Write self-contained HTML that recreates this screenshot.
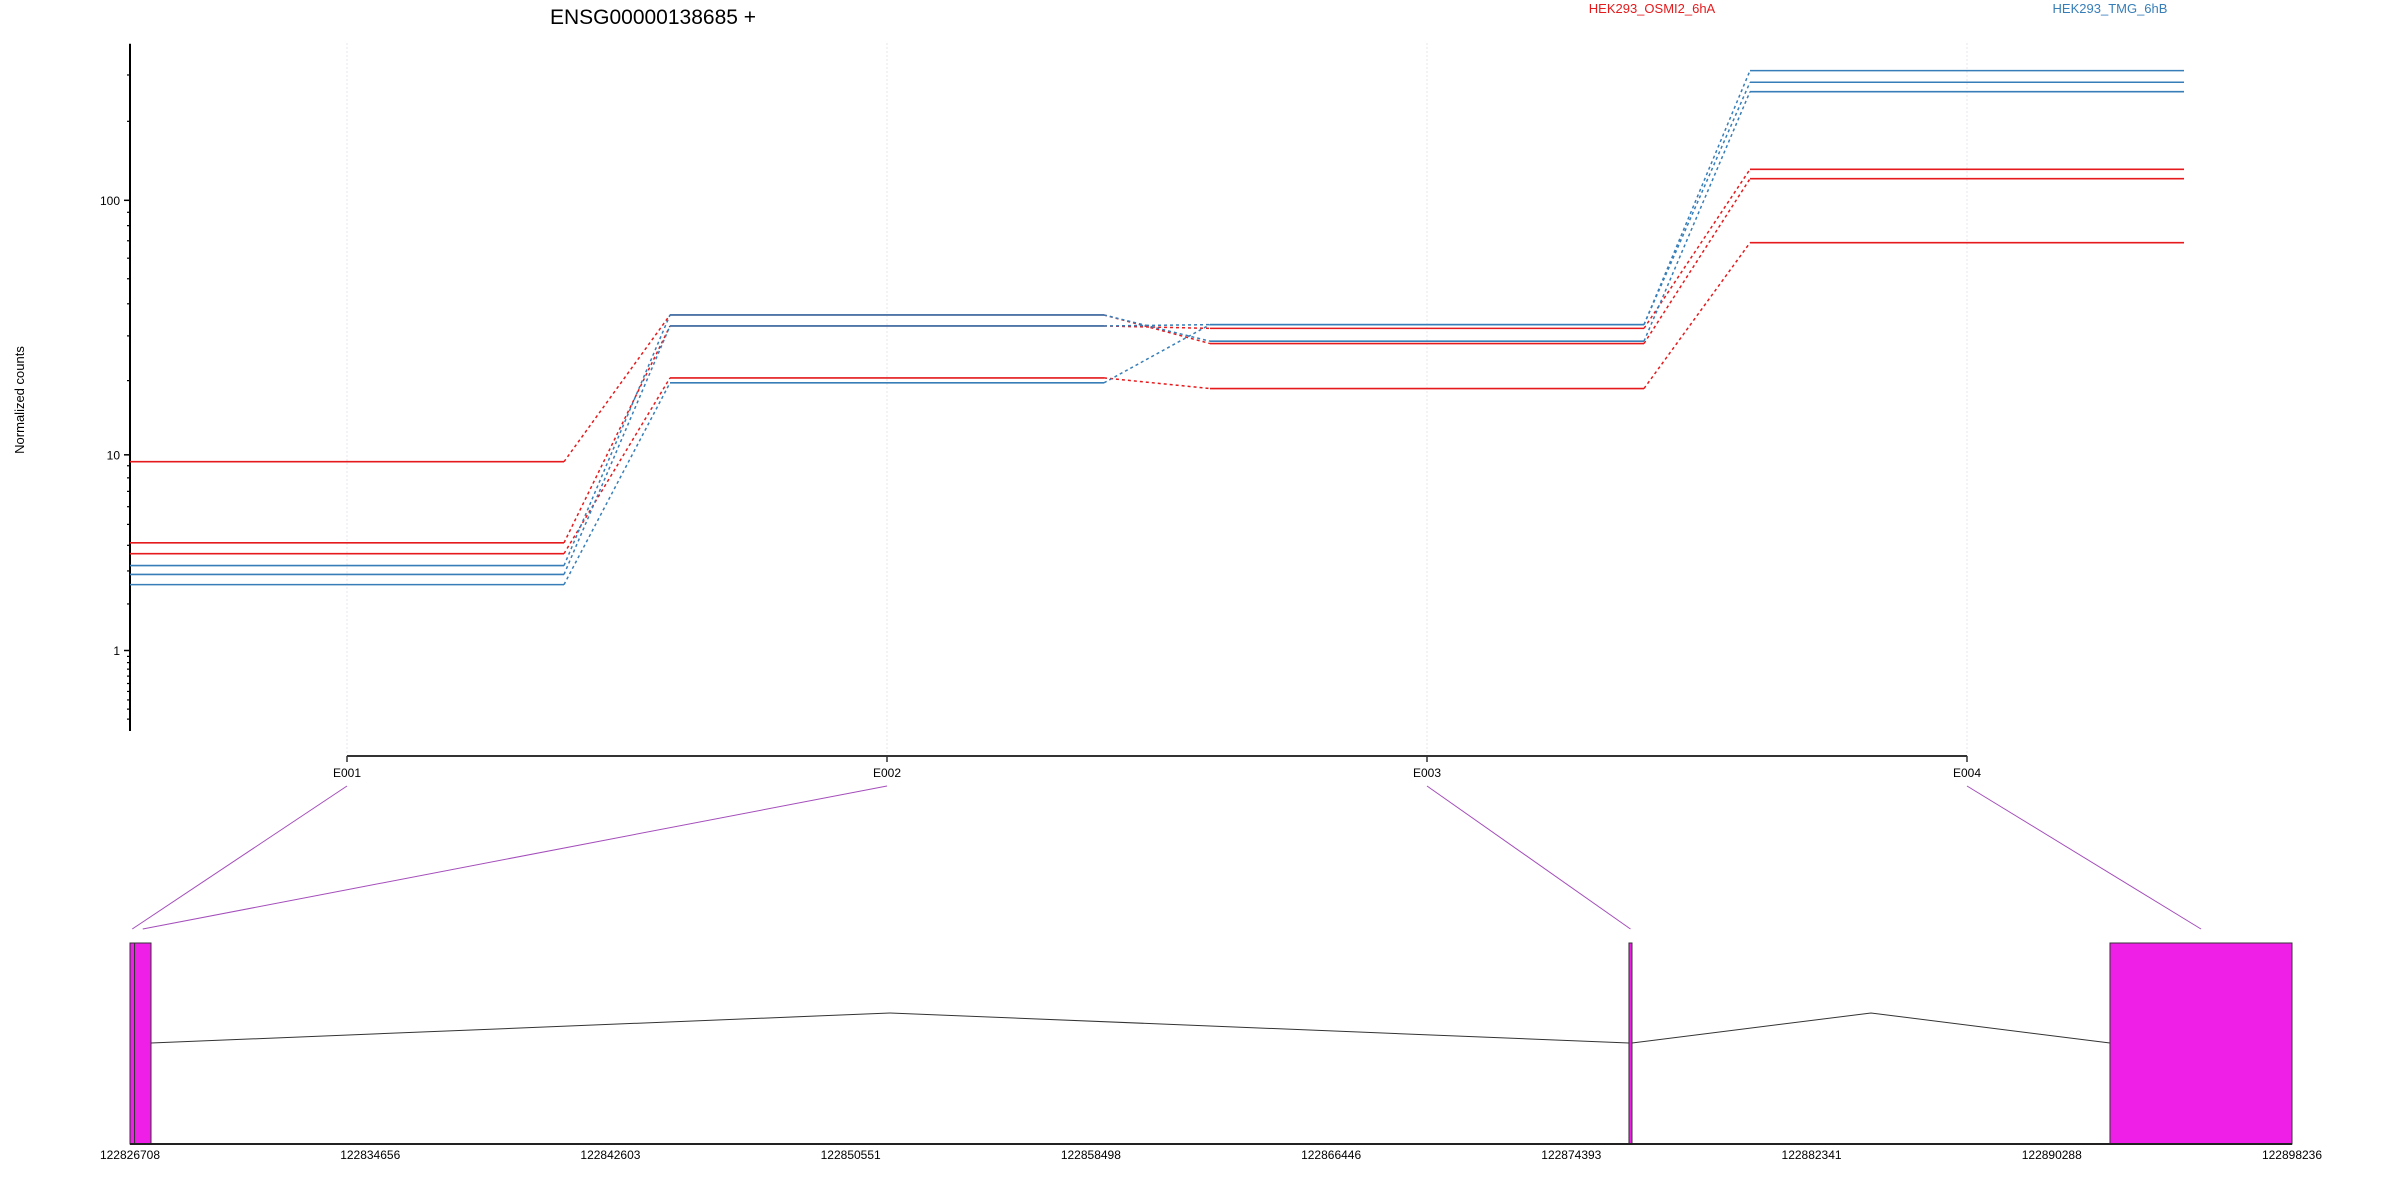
<!DOCTYPE html>
<html><head><meta charset="utf-8"><style>
html,body{margin:0;padding:0;background:#fff;}
svg{display:block;font-family:"Liberation Sans",sans-serif;}
</style></head><body>
<svg id="chart" width="2400" height="1200" viewBox="0 0 2400 1200" xmlns="http://www.w3.org/2000/svg">
<rect x="0" y="0" width="2400" height="1200" fill="#fff"/>
<text x="653" y="24" font-size="21" text-anchor="middle" fill="#000">ENSG00000138685 +</text>
<text x="1652" y="13" font-size="13" text-anchor="middle" fill="#e41a1c">HEK293_OSMI2_6hA</text>
<text x="2110" y="13" font-size="13" text-anchor="middle" fill="#377eb8">HEK293_TMG_6hB</text>
<text transform="translate(24,400) rotate(-90)" font-size="13" text-anchor="middle" fill="#000">Normalized counts</text>
<g id="grid"></g>
<g id="yaxis"></g>
<g id="xaxis"></g>
<g id="series"></g>
<g id="connectors"></g>
<g id="gene"></g>
</svg>
<script>
const exons = ["E001","E002","E003","E004"];
const seriesNames = ["osmi-1","osmi-2","osmi-3","tmg-1","tmg-2","tmg-3"];
const seriesGroup = ["osmi","osmi","osmi","tmg","tmg","tmg"];
const osmi1 = [9.36, 36.2, 28.0, 120.9];
const osmi2 = [4.11, 32.8, 32.1, 131.3];
const osmi3 = [3.65, 20.5, 18.6, 68.8];
const tmg1 = [3.19, 36.2, 28.6, 259.2];
const tmg2 = [2.88, 32.8, 33.2, 281.5];
const tmg3 = [2.55, 19.6, 33.2, 311.6];
const majorTicks = [1, 10, 100];
const minorTicks = [0.1,0.2,0.3,0.4,0.5,0.6,0.7,0.8,0.9,2,3,4,5,6,7,8,9,20,30,40,50,60,70,80,90,200,300];
const genomeTicks = [122826708,122834656,122842603,122850551,122858498,122866446,122874393,122882341,122890288,122898236];
const exonStarts = [122826708,122826857,122876300,122892214];
const exonEnds = [122826857,122827403,122876400,122898236];

const NS="http://www.w3.org/2000/svg";
const colors={osmi:"#e41a1c",tmg:"#377eb8"};
function el(tag,attrs,parent){const e=document.createElementNS(NS,tag);for(const k in attrs)e.setAttribute(k,attrs[k]);parent.appendChild(e);return e;}
function yScale(v){return 650.5-264.3*(Math.log10(v+1)-Math.log10(2));}
function xExon(i){return 347+540*i;}
const half=217;
const gMin=122826708,gMax=122898236;
function gx(p){return 130+(p-gMin)/(gMax-gMin)*(2292-130);}

const grid=document.getElementById('grid');
exons.forEach((e,i)=>{
  const l=el('line',{x1:xExon(i),x2:xExon(i),y1:43,y2:756,stroke:"#e8e4ee","stroke-width":1,"stroke-dasharray":"2,2"},grid);
  
  
});

const ya=document.getElementById('yaxis');
const yl=el('line',{x1:130,x2:130,y1:43.8,y2:731,stroke:"#000","stroke-width":2},ya);


majorTicks.forEach(t=>{
  const y=yScale(t);
  const tk=el('line',{x1:124,x2:130,y1:y,y2:y,stroke:"#000","stroke-width":1.5},ya);
  
  
  const tx=el('text',{x:120,y:y+4.5,"font-size":12,"text-anchor":"end",fill:"#000"},ya);
  tx.textContent=t;
  
  
});
minorTicks.forEach(t=>{
  const y=yScale(t);
  if(y<43||y>732)return;
  const tk=el('line',{x1:127,x2:130,y1:y,y2:y,stroke:"#000","stroke-width":1.2},ya);
  
  
});

const xa=document.getElementById('xaxis');
const xl=el('line',{x1:xExon(0),x2:xExon(exons.length-1),y1:756,y2:756,stroke:"#333","stroke-width":2},xa);


exons.forEach((e,i)=>{
  const x=xExon(i);
  const tk=el('line',{x1:x,x2:x,y1:756,y2:762,stroke:"#333","stroke-width":1.5},xa);
  
  
  const tx=el('text',{x:x,y:777,"font-size":12,"text-anchor":"middle",fill:"#000"},xa);
  tx.textContent=e;
  
  
});

const sg=document.getElementById('series');
const allSeries=[osmi1,osmi2,osmi3,tmg1,tmg2,tmg3];
allSeries.forEach((vals,s)=>{
  const c=colors[seriesGroup[s]];
  vals.forEach((v,i)=>{
    const y=yScale(v);
    const x1=i===0?130:xExon(i)-half;
    const seg=el('line',{x1:x1,x2:xExon(i)+half,y1:y,y2:y,stroke:c,"stroke-width":1.6},sg);
    
    
    if(i<vals.length-1){
      const y2=yScale(vals[i+1]);
      const d=el('line',{x1:xExon(i)+half,x2:xExon(i+1)-half,y1:y,y2:y2,stroke:c,"stroke-width":1.5,"stroke-dasharray":"3,3"},sg);
      
      
    }
  });
});

const cg=document.getElementById('connectors');
const gene=document.getElementById('gene');
exons.forEach((e,i)=>{
  const mid=gx((exonStarts[i]+exonEnds[i])/2);
  const c=el('line',{x1:xExon(i),y1:786,x2:mid,y2:929,stroke:"#a44dbb","stroke-width":1},cg);
  
  
});
for(let i=0;i<exons.length-1;i++){
  const a=gx(exonEnds[i]),b=gx(exonStarts[i+1]);
  if(b-a<2)continue;
  const p=el('polyline',{points:a+",1043 "+((a+b)/2)+",1013 "+b+",1043",fill:"none",stroke:"#333","stroke-width":1},gene);
  
  
}
exons.forEach((e,i)=>{
  const a=gx(exonStarts[i]),b=gx(exonEnds[i]);
  const r=el('rect',{x:a,y:943,width:Math.max(b-a,2),height:201,fill:"#f01fe8",stroke:"#333","stroke-width":1},gene);
  
  
});
const ga=el('line',{x1:130,x2:2292,y1:1144,y2:1144,stroke:"#222","stroke-width":2},gene);


genomeTicks.forEach(t=>{
  const tx=el('text',{x:gx(t),y:1159,"font-size":12,"text-anchor":"middle",fill:"#000"},gene);
  tx.textContent=t;
  
  
});
</script>
</body></html>
